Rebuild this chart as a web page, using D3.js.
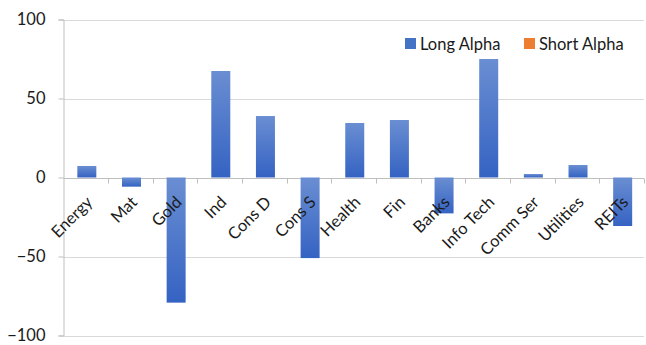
<!DOCTYPE html>
<html>
<head>
<meta charset="utf-8">
<script src="https://cdn.jsdelivr.net/npm/d3@7"></script>
<style>
  html, body { margin: 0; padding: 0; background: #fff; }
  svg { display: block; }
  text { font-family: Lato, "Open Sans", sans-serif; fill: #1a1a1a; }
</style>
</head>
<body>
<svg id="chart" width="646" height="345"></svg>
<script>
// Sector alpha by category
const categories = ["Energy", "Mat", "Gold", "Ind", "Cons D", "Cons S", "Health", "Fin", "Banks", "Info Tech", "Comm Ser", "Utilities", "REITs"];
const longAlpha = [7.3, -5.8, -79.2, 67.4, 38.9, -51, 34.5, 36.4, -22.7, 75, 2.2, 7.9, -30.7];
const shortAlpha = [null, null, null, null, null, null, null, null, null, null, null, null, null];
const seriesNames = ["Long Alpha", "Short Alpha"];
const seriesColors = ["#4472c4", "#ed7d31"];
const yTicks = [-100, -50, 0, 50, 100];

const svg = d3.select("#chart");
const margin = { left: 63.5, right: 2, top: 19.5, bottom: 9.5 };
const W = 646, H = 345;
const fontSize = 16.5;

const x = d3.scaleBand()
  .domain(categories)
  .range([margin.left, W - margin.right])
  .paddingInner(0).paddingOuter(0);

const y = d3.scaleLinear()
  .domain([-100, 100])
  .range([H - margin.bottom, margin.top]);

// Bar fill: lighter at top, deeper blue at the bottom
const defs = svg.append("defs");
const grad = defs.append("linearGradient")
  .attr("id", "barGrad")
  .attr("x1", 0).attr("y1", 0).attr("x2", 0).attr("y2", 1);
grad.append("stop").attr("offset", "0%").attr("stop-color", "#6a8ed2");
grad.append("stop").attr("offset", "100%").attr("stop-color", "#3563c3");

// Horizontal gridlines
svg.append("g")
  .selectAll("line")
  .data(yTicks.filter(d => d !== 0))
  .join("line")
  .attr("x1", margin.left)
  .attr("x2", W - margin.right)
  .attr("y1", d => Math.round(y(d)) + 0.5)
  .attr("y2", d => Math.round(y(d)) + 0.5)
  .attr("stroke", "#d9d9d9")
  .attr("stroke-width", 1);

// Y axis
const yAxis = d3.axisLeft(y)
  .tickValues(yTicks)
  .tickSize(5)
  .tickPadding(13)
  .tickFormat(d3.format("d"));
const gy = svg.append("g")
  .attr("transform", `translate(${margin.left},0)`)
  .call(yAxis);
gy.select(".domain").attr("stroke", "#bfbfbf");
gy.selectAll(".tick line").attr("stroke", "#bfbfbf");
gy.selectAll(".tick text")
  .attr("font-size", fontSize)
  .style("font-family", "Lato, 'Open Sans', sans-serif")
  .attr("fill", "#1a1a1a");

// X axis along zero, ticks on category boundaries
const zeroY = Math.round(y(0)) + 0.5;
const gx = svg.append("g");
gx.append("line")
  .attr("x1", margin.left).attr("x2", W - margin.right)
  .attr("y1", zeroY).attr("y2", zeroY)
  .attr("stroke", "#bfbfbf");
const boundaries = categories.map(c => x(c) + x.bandwidth());
gx.selectAll("line.tk")
  .data(boundaries)
  .join("line")
  .attr("class", "tk")
  .attr("x1", d => Math.round(d) + 0.5).attr("x2", d => Math.round(d) + 0.5)
  .attr("y1", zeroY).attr("y2", zeroY + 5)
  .attr("stroke", "#bfbfbf");

// Bars, drawn over the zero line
const barW = 19;
svg.append("g")
  .selectAll("rect")
  .data(categories.map((c, i) => ({ c, v: longAlpha[i] })))
  .join("rect")
  .attr("x", d => x(d.c) + x.bandwidth() / 2 - barW / 2 + 1)
  .attr("width", barW)
  .attr("y", d => y(Math.max(0, d.v)))
  .attr("height", d => Math.abs(y(d.v) - y(0)))
  .attr("fill", "url(#barGrad)");

// Rotated category labels
svg.append("g").selectAll("text")
  .data(categories)
  .join("text")
  .attr("transform", d => `translate(${x(d) + x.bandwidth() / 2 - 1},${zeroY + 16}) rotate(-45)`)
  .attr("text-anchor", "end")
  .attr("dy", "0.75em")
  .attr("font-size", fontSize)
  .text(d => d);

// Legend
const legend = svg.append("g");
const legendX = [405, 524];
seriesNames.forEach((name, i) => {
  const g = legend.append("g").attr("transform", `translate(${legendX[i]},38)`);
  g.append("rect").attr("width", 11).attr("height", 11).attr("fill", seriesColors[i]);
  g.append("text").attr("x", 15).attr("y", 11.5).attr("font-size", fontSize).text(name);
});
</script>
</body>
</html>
